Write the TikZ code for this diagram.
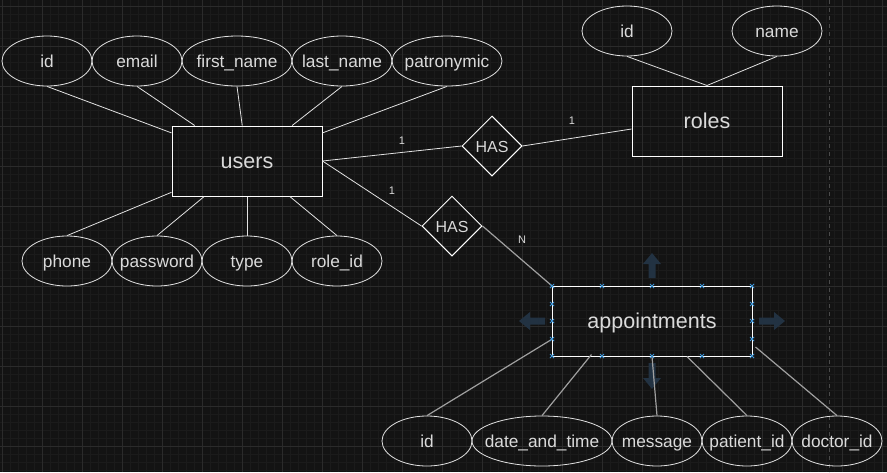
\documentclass[tikz,border=0pt]{standalone}
\usepackage{fontspec}
\setmainfont{Liberation Sans}
\usetikzlibrary{shapes.geometric,calc}
\definecolor{bg}{HTML}{131313}
\definecolor{gmin}{HTML}{1B1B1B}
\definecolor{gmaj}{HTML}{2B2B2B}
\definecolor{fg}{HTML}{E2E2E2}
\definecolor{txt}{HTML}{DADADA}
\definecolor{gl}{HTML}{A0A0A0}
\definecolor{hnd}{HTML}{3D95D8}
\definecolor{harr}{HTML}{223242}
\definecolor{pagedash}{HTML}{4A4A4A}
\newcommand{\zb}[1]{\makebox[0pt]{#1}}
\begin{document}
\begin{tikzpicture}[x=1pt,y=-1pt,
 attr/.style={ellipse, draw=fg, line width=0.8pt, inner sep=0pt, minimum width=90pt, minimum height=50pt, text=txt, text height=15pt, text depth=3pt, font=\fontsize{17.3}{20}\selectfont},
 ent/.style={rectangle, draw=white, line width=1pt, minimum width=150pt, minimum height=70pt, inner sep=0pt, text=txt, text height=17pt, text depth=3pt, font=\fontsize{21.5}{24}\selectfont},
 rel/.style={diamond, draw=white, line width=1pt, minimum width=60pt, minimum height=60pt, inner sep=0pt, text=txt, text height=14pt, text depth=2pt, font=\fontsize{16}{18}\selectfont},
 card/.style={text=txt, font=\fontsize{11}{13}\selectfont, inner sep=0pt},
 conn/.style={draw=fg, line width=0.8pt},
 aconn/.style={draw=gl, line width=1.2pt},
 harrow/.style={fill=harr, draw=none}]
\useasboundingbox (0,0) rectangle (887,472);
\fill[bg] (0,0) rectangle (887,472);
% grid
\foreach \x in {2,10,...,886} \draw[gmin, line width=0.5pt] (\x,0) -- (\x,472);
\foreach \y in {6,14,...,470} \draw[gmin, line width=0.5pt] (0,\y) -- (887,\y);
\foreach \x in {2,42,...,882} \draw[gmaj, line width=0.8pt] (\x,0) -- (\x,472);
\foreach \y in {6,46,...,470} \draw[gmaj, line width=0.8pt] (0,\y) -- (887,\y);
\draw[pagedash, line width=0.8pt, dash pattern=on 4pt off 4pt] (829,0) -- (829,472);

% entities
\node[ent] (users) at (247,161) {users};
\node[ent] (roles) at (707,121) {roles};
\node[ent, minimum width=200pt] (app) at (652,321) {appointments};

% user attributes
\node[attr] (uid) at (47,61) {\zb{id}};
\node[attr] (uemail) at (137,61) {\zb{email}};
\node[attr, minimum width=110pt] (ufirst) at (237,61) {\zb{first\_name}};
\node[attr, minimum width=100pt] (ulast) at (342,61) {\zb{last\_name}};
\node[attr, minimum width=110pt] (upatr) at (447,61) {\zb{patronymic}};
\node[attr] (uphone) at (67,261) {\zb{phone}};
\node[attr] (upass) at (157,261) {\zb{password}};
\node[attr] (utype) at (247,261) {\zb{type}};
\node[attr] (urole) at (337,261) {\zb{role\_id}};

% role attributes
\node[attr] (rid) at (627,31) {\zb{id}};
\node[attr] (rname) at (777,31) {\zb{name}};

% appointment attributes
\node[attr] (aid) at (427,441) {\zb{id}};
\node[attr, minimum width=140pt] (adt) at (542,441) {\zb{date\_and\_time}};
\node[attr] (amsg) at (657,441) {\zb{message}};
\node[attr] (apat) at (747,441) {\zb{patient\_id}};
\node[attr] (adoc) at (837,441) {\zb{doctor\_id}};

% relationships
\node[rel] (has1) at (492,146) {HAS};
\node[rel] (has2) at (452,226) {HAS};

% connectors users
\foreach \n in {uid,uemail,ufirst,ulast,upatr} \draw[conn] (\n.south) -- (users);
\foreach \n in {uphone,upass,utype,urole} \draw[conn] (\n.north) -- (users);
% roles
\draw[conn] (rid.south) -- (roles.north);
\draw[conn] (rname.south) -- (roles.north);
% relationships
\draw[conn] (users.east) -- (has1.west);
\draw[conn] (has1.east) -- ($(roles.west)+(0,8)$);
\draw[conn] (users.east) -- (has2.west);
\draw[aconn] (has2.east) -- (app.north west);

% hover arrows
\fill[harrow] (652,253) -- (661,264) -- (655.5,264) -- (655.5,278) -- (648.5,278) -- (648.5,264) -- (643,264) -- cycle;
\fill[harrow] (652,389) -- (661,378) -- (655.5,378) -- (655.5,363) -- (648.5,363) -- (648.5,378) -- (643,378) -- cycle;
\fill[harrow] (519,321) -- (530,312) -- (530,317.5) -- (545,317.5) -- (545,324.5) -- (530,324.5) -- (530,330) -- cycle;
\fill[harrow] (785,321) -- (774,312) -- (774,317.5) -- (759,317.5) -- (759,324.5) -- (774,324.5) -- (774,330) -- cycle;

% appointment connectors
\draw[aconn] (aid.north) -- ($(app.south west)+(0,-17)$);
\draw[aconn] (adt.north) -- ($(app.south west)+(40,-2)$);
\draw[aconn] (amsg.north) -- (app.south);
\draw[aconn] (apat.north) -- ($(app.south)+(35,0)$);
\draw[aconn] (adoc.north) -- ($(app.east)+(3,26)$);

% cardinalities
\node[card] (c1) at (402,141) {1};
\node[card] (c2) at (572,121) {1};
\node[card] (c3) at (392,191) {1};
\node[card] (cn) at (522,240) {N};

% selection handles
\foreach \x/\y in {552/286,602/286,652/286,702/286,752/286,552/356,602/356,652/356,702/356,752/356,552/304,552/321,552/339,752/304,752/321,752/339}
  \draw[hnd, line width=1pt] (\x-2,\y-2) -- (\x+2,\y+2) (\x-2,\y+2) -- (\x+2,\y-2);
\end{tikzpicture}
\end{document}
